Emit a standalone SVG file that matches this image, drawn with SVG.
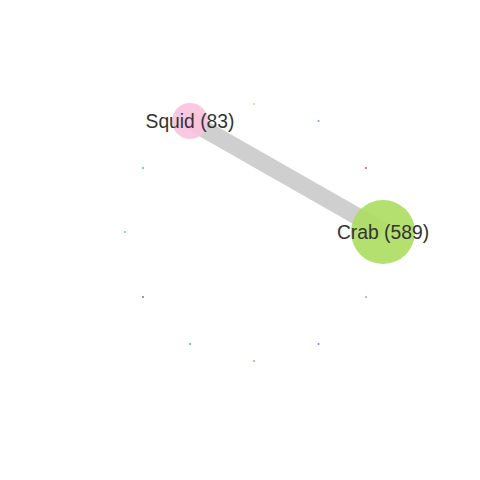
<svg xmlns="http://www.w3.org/2000/svg" width="480" height="480" viewBox="0 0 480 480">
<style>
.lbl{font-family:"Liberation Sans",Arial,sans-serif;font-size:19.3px;fill:#333;text-anchor:middle;dominant-baseline:central}
.dot{stroke:none}
.node{opacity:0.9}
</style>
<rect width="480" height="480" fill="#fff"/>
<g id="connectors">
<line x1="190" y1="121" x2="383" y2="231" stroke="#cfcfcf" stroke-width="17"/>
</g>
<g id="minor-nodes">
<circle class="dot" cx="254" cy="104" r="1" fill="#b5e39a"/>
<circle class="dot" cx="318.5" cy="121" r="1" fill="#6aa3d8"/>
<circle class="dot" cx="366" cy="168" r="1" fill="#f04a6a"/>
<circle class="dot" cx="366" cy="297" r="1" fill="#a9a6e0"/>
<circle class="dot" cx="318.5" cy="344" r="1" fill="#c060d0"/>
<circle class="dot" cx="254" cy="361" r="1" fill="#9a9cf0"/>
<circle class="dot" cx="190" cy="344" r="1" fill="#4fc0b0"/>
<circle class="dot" cx="143" cy="297" r="1" fill="#9a5cc8"/>
<circle class="dot" cx="125" cy="232" r="1" fill="#6fcfa8"/>
<circle class="dot" cx="143" cy="168" r="1" fill="#4fc8b0"/>
</g>
<g id="node-squid">
<circle class="node" cx="190" cy="121" r="18" fill="#f9c2dd"/>
<text class="lbl" x="190" y="121">Squid (83)</text>
</g>
<g id="node-crab">
<circle class="node" cx="383" cy="232" r="32" fill="#abdd5f"/>
<text class="lbl" x="383" y="232">Crab (589)</text>
</g>
</svg>
